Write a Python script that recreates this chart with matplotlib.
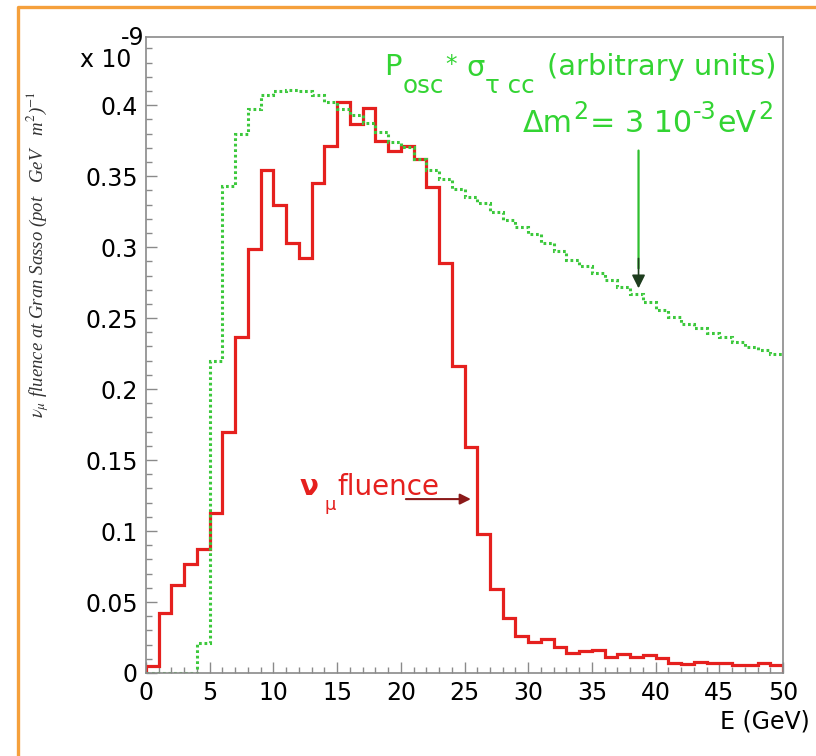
import numpy as np
import matplotlib
matplotlib.use("Agg")
import matplotlib.pyplot as plt
from matplotlib.ticker import MultipleLocator, FuncFormatter
from matplotlib.lines import Line2D

# Energy binning (GeV), 1 GeV bins
edges = np.arange(0, 51, 1)

# nu_mu fluence at Gran Sasso per bin (x 1e-9 / (pot GeV m^2))
numu_fluence = [0.005, 0.042, 0.062, 0.0765, 0.087, 0.113, 0.170, 0.237, 0.299, 0.354,
                0.330, 0.303, 0.292, 0.345, 0.371, 0.402, 0.387, 0.398, 0.375, 0.368,
                0.371, 0.362, 0.342, 0.289, 0.216, 0.159, 0.098, 0.059, 0.039, 0.026,
                0.0215, 0.024, 0.0185, 0.014, 0.0157, 0.016, 0.011, 0.0134, 0.0115, 0.0124,
                0.0103, 0.0073, 0.0066, 0.008, 0.0073, 0.0073, 0.0056, 0.0056, 0.0068, 0.0056]

# P_osc * sigma_tau CC, arbitrary units
osc_xsec = [0.0, 0.0, 0.0, 0.0, 0.021, 0.220, 0.343, 0.380, 0.397, 0.407,
            0.410, 0.411, 0.410, 0.407, 0.402, 0.397, 0.393, 0.3875, 0.381, 0.374,
            0.3706, 0.362, 0.354, 0.348, 0.341, 0.335, 0.331, 0.325, 0.319, 0.314,
            0.309, 0.3026, 0.297, 0.291, 0.287, 0.282, 0.277, 0.272, 0.267, 0.2615,
            0.2556, 0.2505, 0.246, 0.2427, 0.2396, 0.2364, 0.2333, 0.2298, 0.2275, 0.2246]

RED = "#e5201e"
GREEN = "#33d433"
GREEN_LINE = "#3cc83c"
FRAME = "#8a8a8a"

plt.rcParams["font.family"] = ["DejaVu Sans"]

W, H = 816, 756
fig = plt.figure(figsize=(W / 100, H / 100), dpi=100)
fig.patch.set_facecolor("white")
renderer = fig.canvas.get_renderer()


def put(x_px, y_px, s, size, color="black", **kw):
    """Place a text piece with its baseline at pixel (x_px, y_px), y measured from the top."""
    kw.setdefault("ha", "left")
    return fig.text(x_px / W, 1 - y_px / H, s, fontsize=size, color=color,
                    va="baseline", **kw)


def chain(pieces, x_right, y_base, width, color):
    """Lay out (text, size, baseline shift px, gap before px) pieces side by side,
    scaled so the whole run spans `width` pixels and ends at x_right."""
    def run(scale, x0, draw):
        x = x0
        for s, size, dy, gap in pieces:
            x += gap * scale
            t = put(x, y_base + dy * scale, s, size * scale, color)
            x += t.get_window_extent(renderer).width
            if not draw:
                t.remove()
        return x - x0

    total = run(1.0, 0, False)
    scale = width / total
    total = run(scale, 0, False)
    run(scale, x_right - total, True)


# axes frame in pixels: left 146, right 783, top 37, bottom 673
ax = fig.add_axes([146 / W, 1 - 673 / H, (783 - 146) / W, (673 - 37) / H])
ax.set_xlim(0, 50)
ax.set_ylim(0, 0.448)

ax.stairs(numu_fluence, edges, color=RED, lw=2.3, zorder=3)
ax.stairs(osc_xsec, edges, baseline=None, color=GREEN_LINE, lw=2.2,
          linestyle=(0, (0.9, 0.9)), zorder=4)

for s in ax.spines.values():
    s.set_color(FRAME)
    s.set_linewidth(1.2)
    s.set_zorder(5)

ax.xaxis.set_major_locator(MultipleLocator(5))
ax.xaxis.set_minor_locator(MultipleLocator(1))
ax.yaxis.set_major_locator(MultipleLocator(0.05))
ax.yaxis.set_minor_locator(MultipleLocator(0.01))
ax.yaxis.set_major_formatter(FuncFormatter(lambda v, p: "%g" % round(v, 3)))
ax.xaxis.set_major_formatter(FuncFormatter(lambda v, p: "%d" % round(v)))
ax.tick_params(which="both", direction="in", color=FRAME, width=1.0,
               top=False, right=False, labelsize=17, labelcolor="black")
ax.tick_params(which="major", length=8, pad=6)
ax.tick_params(which="minor", length=4.5)

# axis titles and exponent
put(810, 729, "E (GeV)", 17, ha="right")
put(80, 67, "x 10", 17)
put(121, 45, "-9", 17)
fig.text(38 / W, 1 - 255 / H,
         r"$\nu_{\mu}$ fluence at Gran Sasso (pot   GeV   m$^{2}$)$^{-1}$",
         rotation=90, ha="center", va="center", fontsize=13.5,
         family="Liberation Serif", style="italic", color="#333333",
         math_fontfamily="stix")

# green annotation: P_osc * sigma_tau cc (arbitrary units)
chain([("P", 20, 0, 0), ("osc", 17, 17, 1), ("*", 16, -4, 1),
       ("σ", 20, 1, 9), ("τ cc", 17, 17, 1), ("(arbitrary units)", 20, 0, 12)],
      777, 75, 392, GREEN)

# Delta m^2 = 3 10^-3 eV^2
chain([("Δm", 19, 0, 0), ("2", 15, -11, 1), ("= 3 10", 19, 0, 1),
       ("-3", 15, -11, 1), ("eV", 19, 0, 1), ("2", 15, -11, 1)],
      773, 132, 250, GREEN)

ax.annotate("", xy=(38.66, 0.285), xytext=(38.66, 0.368),
            arrowprops=dict(arrowstyle="-", color="#2fbf2f", lw=1.6, shrinkA=0, shrinkB=0))
ax.annotate("", xy=(38.66, 0.271), xytext=(38.66, 0.292),
            arrowprops=dict(arrowstyle="-|>", color="#1e3d1e", lw=1.2,
                            mutation_scale=20, shrinkA=0, shrinkB=0))

# red annotation: nu_mu fluence
put(300, 495, "ν", 20, RED, weight="bold")
put(325, 510, "μ", 13, RED)
put(337, 495, "fluence", 20, RED)
ax.annotate("", xy=(25.5, 0.1225), xytext=(20.4, 0.1225),
            arrowprops=dict(arrowstyle="-|>", color="#8b1a1a", lw=1.5,
                            mutation_scale=16, shrinkA=0, shrinkB=0))

# orange page border (left and top edges)
border = Line2D([18 / W, 18 / W, 1.0], [0.0, 1 - 7 / H, 1 - 7 / H],
                transform=fig.transFigure, color="#f5a03c", lw=2.4)
fig.add_artist(border)

fig.savefig("out.png", dpi=100)
